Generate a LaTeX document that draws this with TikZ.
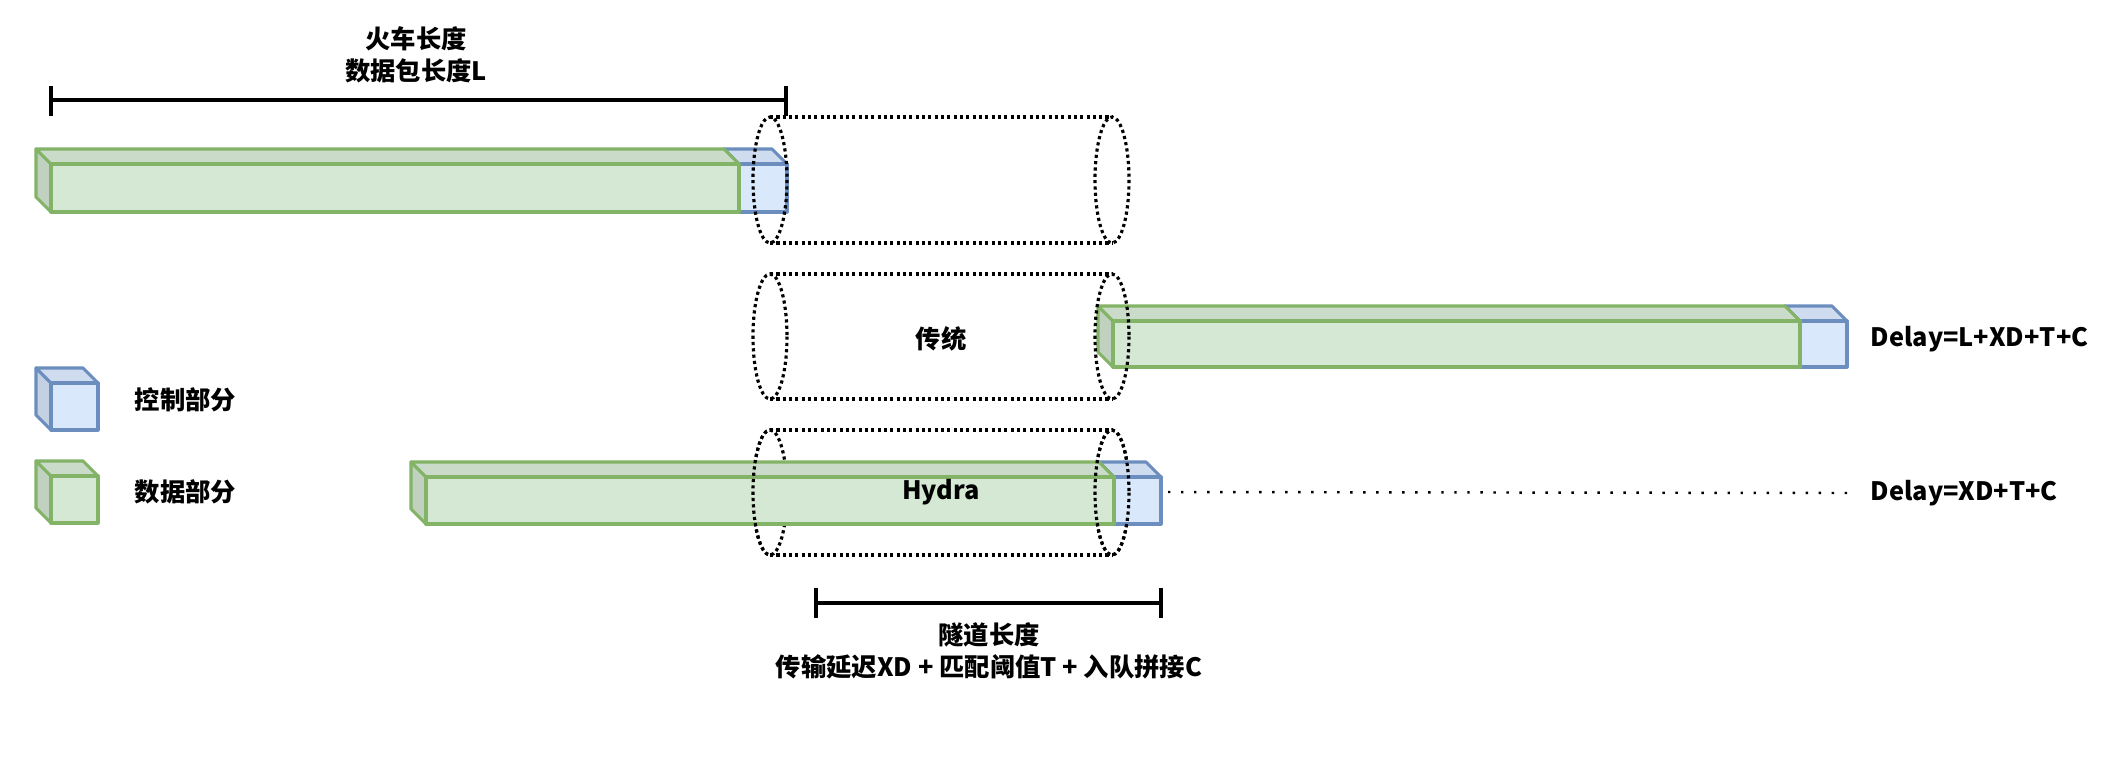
\documentclass[tikz,border=0pt]{standalone}
\usepackage{fontspec}
\setmainfont{Noto Sans CJK SC}
\usepackage{tikz}
\usetikzlibrary{arrows}

\definecolor{datafill}{HTML}{D5E8D4}
\definecolor{dataline}{HTML}{82B366}
\definecolor{ctrlfill}{HTML}{DAE8FC}
\definecolor{ctrlline}{HTML}{6C8EBF}

% front face from x #1 to #2, top #3, bottom #4, fill #5, line #6
\newcommand{\cuboid}[6]{%
  \filldraw[#6, fill=#5!90!black, line width=0.9pt, line join=round]
    (#1,#3) -- (#1-15,#3-15) -- (#1-15,#4-15) -- (#1,#4) -- cycle;
  \filldraw[#6, fill=#5!95!black, line width=0.9pt, line join=round]
    (#1,#3) -- (#1-15,#3-15) -- (#2-15,#3-15) -- (#2,#3) -- cycle;
  \filldraw[#6, fill=#5, line width=0.9pt, line join=round]
    (#1,#3) rectangle (#2,#4);
}
% tunnel between y #1 and #2
\newcommand{\tunnel}[2]{%
  \draw[tunnelline] (770,#1) -- (1112,#1) (770,#2) -- (1112,#2);
  \draw[tunnelline] (770,{(#1+#2)/2}) ellipse [x radius=17, y radius={(#2-#1)/2}];
  \draw[tunnelline] (1112,{(#1+#2)/2}) ellipse [x radius=17, y radius={(#2-#1)/2}];
}

\begin{document}
\begin{tikzpicture}[x=0.01cm, y=-0.01cm,
    lbl/.style={font=\bfseries\fontsize{7.2}{9}\selectfont, inner sep=0pt, align=center},
    tunnelline/.style={black, line width=0.9pt, dash pattern=on 0.9pt off 0.9pt},
    bracket/.style={black, line width=1pt},
    trail/.style={black, line width=0.7pt, dash pattern=on 0.7pt off 3pt}]
        \useasboundingbox (0,0) rectangle (2102,757);

        % legend
        \cuboid{51}{98}{383}{430}{ctrlfill}{ctrlline}
        \cuboid{51}{98}{476}{523}{datafill}{dataline}
        \node[lbl, anchor=west] (ctrl) at (134,400) {控制部分};
        \node[lbl, anchor=west] (data) at (134,492) {数据部分};

        % train length
        \node[lbl] (trainlen) at (416,55) {火车长度\\数据包长度L};
        \coordinate (trainL) at (51,100);
        \coordinate (trainR) at (786,100);
        \draw[bracket] (trainL) -- (trainR);
        \draw[bracket] (51,86) -- (51,116);
        \draw[bracket] (786,86) -- (786,116);

        % row 1
        \cuboid{739}{787}{164}{212}{ctrlfill}{ctrlline}
        \cuboid{51}{739}{164}{212}{datafill}{dataline}
        \tunnel{117}{243}

        % row 2: traditional
        \cuboid{1800}{1847}{321}{367}{ctrlfill}{ctrlline}
        \cuboid{1113}{1800}{321}{367}{datafill}{dataline}
        \tunnel{274}{399}
        \node[lbl] (trad) at (941,339) {传统};
        \node[lbl, anchor=west] (delaytrad) at (1870,339) {Delay=L+XD+T+C};

        % row 3: hydra
        \tunnel{430}{555}
        \cuboid{1114}{1161}{477}{524}{ctrlfill}{ctrlline}
        \cuboid{426}{1114}{477}{524}{datafill}{dataline}
        \begin{scope}
            \clip (740,400) rectangle (770,600);
            \draw[tunnelline] (770,492.5) ellipse [x radius=17, y radius=62.5];
        \end{scope}
        \draw[tunnelline] (1112,492.5) ellipse [x radius=17, y radius=62.5];
        \node[lbl] (hydra) at (941,492) {Hydra};
        \node[lbl, anchor=west] (delayhydra) at (1870,493) {Delay=XD+T+C};
        \coordinate (hydratail) at (1168,492);
        \draw[trail] (hydratail) -- ([xshift=-0.23cm]delayhydra.west);

        % tunnel length
        \coordinate (tunnelL) at (816,603);
        \coordinate (tunnelR) at (1161,603);
        \draw[bracket] (tunnelL) -- (tunnelR);
        \draw[bracket] (816,588) -- (816,618);
        \draw[bracket] (1161,588) -- (1161,618);
        \node[lbl] (tunnellen) at (989,651) {隧道长度\\传输延迟XD + 匹配阈值T + 入队拼接C};
\end{tikzpicture}
\end{document}
